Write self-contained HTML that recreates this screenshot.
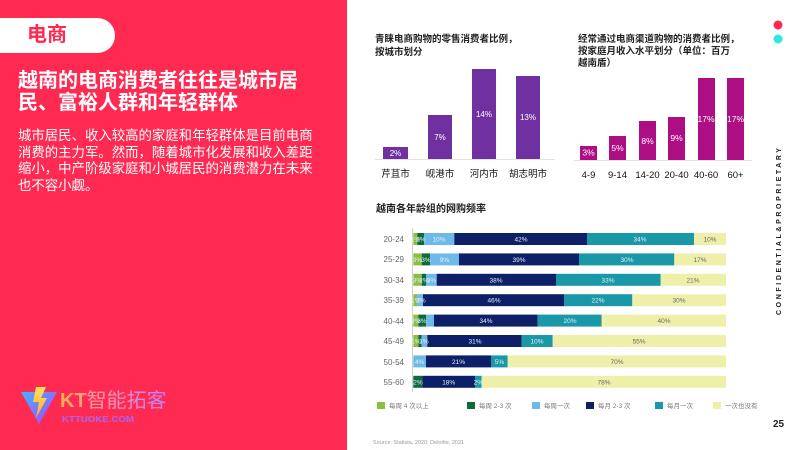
<!DOCTYPE html>
<html><head><meta charset="utf-8">
<style>
html,body{margin:0;padding:0;}
body{width:800px;height:450px;position:relative;overflow:hidden;background:#fff;font-family:"Liberation Sans","Noto Sans CJK SC",sans-serif;}
.left{position:absolute;left:0;top:0;width:347px;height:450px;background:#ff2a52;}
.tab{position:absolute;left:0;top:18px;width:115px;height:35px;background:#fff;border-radius:0 18px 18px 0;}
.tab span{position:absolute;left:27px;top:5px;font-size:20px;line-height:24px;font-weight:700;color:#ff2a52;font-family:"Liberation Sans","Noto Sans CJK SC",sans-serif;}
.title{position:absolute;left:18px;top:70px;font-size:20px;line-height:22px;font-weight:700;color:#fff;white-space:nowrap;}
.body{position:absolute;left:18px;top:128px;font-size:13.4px;line-height:16.5px;color:#fff;white-space:nowrap;}
svg{position:absolute;left:0;top:0;}
</style></head>
<body>
<div class="left">
  <div class="tab"><span>电商</span></div>
  <div class="title">越南的电商消费者往往是城市居<br>民、富裕人群和年轻群体</div>
  <div class="body">城市居民、收入较高的家庭和年轻群体是目前电商<br>消费的主力军。然而，随着城市化发展和收入差距<br>缩小，中产阶级家庭和小城居民的消费潜力在未来<br>也不容小觑。</div>
</div>
<svg width="800" height="450" viewBox="0 0 800 450" xmlns="http://www.w3.org/2000/svg" font-family="Liberation Sans, Noto Sans CJK SC, sans-serif">
<defs>
  <linearGradient id="tri" x1="0" y1="0" x2="1" y2="1">
    <stop offset="0" stop-color="#41b6ff"/><stop offset="1" stop-color="#b23cff"/>
  </linearGradient>
  <linearGradient id="bolt" x1="0" y1="0" x2="0" y2="1">
    <stop offset="0" stop-color="#ffe45c"/><stop offset="1" stop-color="#ffa726"/>
  </linearGradient>
  <linearGradient id="txt" x1="0" y1="0" x2="1" y2="0">
    <stop offset="0" stop-color="#ffb04a"/><stop offset="0.3" stop-color="#ff9a9a"/><stop offset="1" stop-color="#c47cff"/>
  </linearGradient>
</defs>
<!-- logo -->
<polygon points="21,392 57,392 39,424" fill="url(#tri)"/>
<polygon points="36,387 46,387 41,398 47,398 36,418 39,402 33,402" fill="url(#bolt)"/>
<text x="60" y="407" font-size="20" fill="url(#txt)" font-weight="700">KT<tspan font-weight="400">智能拓客</tspan></text>
<text x="62" y="422" font-size="8.5" font-weight="700" fill="#a666f0" textLength="72" lengthAdjust="spacingAndGlyphs">KTTUOKE.COM</text>

<!-- dots -->
<circle cx="778" cy="25" r="4.5" fill="#ff2a52"/>
<circle cx="778" cy="39" r="4.5" fill="#2ee6e4"/>
<text transform="translate(781,315) rotate(-90)" font-size="7" font-weight="700" fill="#222" textLength="167" lengthAdjust="spacing">CONFIDENTIAL&amp;PROPRIETARY</text>

<!-- chart 1 -->
<text x="375" y="42" font-size="9.5" font-weight="700" fill="#222">青睐电商购物的零售消费者比例，</text>
<text x="375" y="55" font-size="9.5" font-weight="700" fill="#222">按城市划分</text>
<line x1="375" y1="159.5" x2="555" y2="159.5" stroke="#e2e2e2" stroke-width="1"/>
<g fill="#7030a0">
<rect x="383" y="147" width="25" height="12"/>
<rect x="428" y="115" width="24" height="44"/>
<rect x="472" y="69" width="24" height="90"/>
<rect x="516" y="76" width="24" height="83"/>
</g>
<g font-size="8" fill="#fff" text-anchor="middle">
<text x="395.5" y="156">2%</text>
<text x="440" y="140">7%</text>
<text x="484" y="117">14%</text>
<text x="528" y="120">13%</text>
</g>
<g font-size="9.5" fill="#111" text-anchor="middle">
<text x="395.5" y="177">芹苴市</text>
<text x="440" y="177">岘港市</text>
<text x="484" y="177">河内市</text>
<text x="528" y="177">胡志明市</text>
</g>

<!-- chart 2 -->
<text x="578" y="42" font-size="9.5" font-weight="700" fill="#222">经常通过电商渠道购物的消费者比例，</text>
<text x="578" y="54" font-size="9.5" font-weight="700" fill="#222">按家庭月收入水平划分（单位：百万</text>
<text x="578" y="66" font-size="9.5" font-weight="700" fill="#222">越南盾）</text>
<line x1="574" y1="160.5" x2="752" y2="160.5" stroke="#e2e2e2" stroke-width="1"/>
<g fill="#ad0e84">
<rect x="580" y="146" width="17" height="14"/>
<rect x="609" y="136" width="17" height="24"/>
<rect x="639" y="121" width="17" height="39"/>
<rect x="668" y="117" width="17" height="43"/>
<rect x="698" y="78" width="17" height="82"/>
<rect x="727" y="78" width="17" height="82"/>
</g>
<g font-size="8.5" fill="#fff" text-anchor="middle">
<text x="588.5" y="155.5">3%</text>
<text x="617.5" y="151">5%</text>
<text x="647.5" y="144">8%</text>
<text x="676.5" y="141">9%</text>
<text x="706" y="122">17%</text>
<text x="735.5" y="122">17%</text>
</g>
<g font-size="9.5" fill="#111" text-anchor="middle">
<text x="588.5" y="178">4-9</text>
<text x="617.5" y="178">9-14</text>
<text x="647.5" y="178">14-20</text>
<text x="676.5" y="178">20-40</text>
<text x="706" y="178">40-60</text>
<text x="735.5" y="178">60+</text>
</g>

<!-- stacked chart -->
<text x="376" y="212" font-size="10" font-weight="700" fill="#222">越南各年龄组的网购频率</text>
<line x1="412.5" y1="228" x2="412.5" y2="392" stroke="#d0d0d0" stroke-width="1"/>
<g font-size="8" fill="#666" text-anchor="end">
<text x="404" y="242">20-24</text>
<text x="404" y="262">25-29</text>
<text x="404" y="283">30-34</text>
<text x="404" y="303">35-39</text>
<text x="404" y="324">40-44</text>
<text x="404" y="344">45-49</text>
<text x="404" y="365">50-54</text>
<text x="404" y="385">55-60</text>
</g>
<!-- row 1 -->
<g>
<rect x="413.3" y="233" width="4" height="12" fill="#8cbf3f"/>
<rect x="417.3" y="233" width="6.7" height="12" fill="#0c6b3a"/>
<rect x="424" y="233" width="30.3" height="12" fill="#6db9e8"/>
<rect x="454.3" y="233" width="132.7" height="12" fill="#0d1f66"/>
<rect x="587" y="233" width="107" height="12" fill="#1a98a8"/>
<rect x="694" y="233" width="32" height="12" fill="#eef0aa"/>
</g>
<!-- row 2 -->
<g>
<rect x="413.3" y="253.4" width="8.4" height="12" fill="#8cbf3f"/>
<rect x="421.7" y="253.4" width="8.3" height="12" fill="#0c6b3a"/>
<rect x="430" y="253.4" width="29" height="12" fill="#6db9e8"/>
<rect x="459" y="253.4" width="120" height="12" fill="#0d1f66"/>
<rect x="579" y="253.4" width="95.3" height="12" fill="#1a98a8"/>
<rect x="674.3" y="253.4" width="51.7" height="12" fill="#eef0aa"/>
</g>
<!-- row 3 -->
<g>
<rect x="413.3" y="273.8" width="8.4" height="12" fill="#8cbf3f"/>
<rect x="421.7" y="273.8" width="4.3" height="12" fill="#0c6b3a"/>
<rect x="426" y="273.8" width="10.7" height="12" fill="#6db9e8"/>
<rect x="436.7" y="273.8" width="119.3" height="12" fill="#0d1f66"/>
<rect x="556" y="273.8" width="104.7" height="12" fill="#1a98a8"/>
<rect x="660.7" y="273.8" width="65.3" height="12" fill="#eef0aa"/>
</g>
<!-- row 4 -->
<g>
<rect x="413.3" y="294.2" width="3.7" height="12" fill="#8cbf3f"/>
<rect x="417" y="294.2" width="6" height="12" fill="#6db9e8"/>
<rect x="423" y="294.2" width="141.3" height="12" fill="#0d1f66"/>
<rect x="564.3" y="294.2" width="68" height="12" fill="#1a98a8"/>
<rect x="632.3" y="294.2" width="93.7" height="12" fill="#eef0aa"/>
</g>
<!-- row 5 -->
<g>
<rect x="413.3" y="314.6" width="5" height="12" fill="#8cbf3f"/>
<rect x="418.3" y="314.6" width="7.7" height="12" fill="#0c6b3a"/>
<rect x="426" y="314.6" width="8" height="12" fill="#6db9e8"/>
<rect x="434" y="314.6" width="103.7" height="12" fill="#0d1f66"/>
<rect x="537.7" y="314.6" width="64" height="12" fill="#1a98a8"/>
<rect x="601.7" y="314.6" width="124.3" height="12" fill="#eef0aa"/>
</g>
<!-- row 6 -->
<g>
<rect x="413.3" y="335" width="5" height="12" fill="#8cbf3f"/>
<rect x="418.3" y="335" width="3.4" height="12" fill="#0c6b3a"/>
<rect x="421.7" y="335" width="5.6" height="12" fill="#6db9e8"/>
<rect x="427.3" y="335" width="94.4" height="12" fill="#0d1f66"/>
<rect x="521.7" y="335" width="31" height="12" fill="#1a98a8"/>
<rect x="552.7" y="335" width="173.3" height="12" fill="#eef0aa"/>
</g>
<!-- row 7 -->
<g>
<rect x="413.3" y="355.4" width="12.7" height="12" fill="#6db9e8"/>
<rect x="426" y="355.4" width="65" height="12" fill="#0d1f66"/>
<rect x="491" y="355.4" width="16.7" height="12" fill="#1a98a8"/>
<rect x="507.7" y="355.4" width="218.3" height="12" fill="#eef0aa"/>
</g>
<!-- row 8 -->
<g>
<rect x="413.3" y="375.8" width="9" height="12" fill="#0c6b3a"/>
<rect x="422.3" y="375.8" width="52.7" height="12" fill="#0d1f66"/>
<rect x="475" y="375.8" width="6.7" height="12" fill="#1a98a8"/>
<rect x="481.7" y="375.8" width="244.3" height="12" fill="#eef0aa"/>
</g>
<!-- segment labels -->
<g font-size="6.5" fill="#e8f0ff" text-anchor="middle">
<text x="415.5" y="241.5">1%</text><text x="421" y="241.5">2%</text><text x="439" y="241.5">10%</text><text x="521" y="241.5">42%</text><text x="640" y="241.5">34%</text>
<text x="417.5" y="262">3%</text><text x="426" y="262">3%</text><text x="444.5" y="262">9%</text><text x="519" y="262">39%</text><text x="627" y="262">30%</text>
<text x="417.5" y="282.3">3%</text><text x="424" y="282.3">2%</text><text x="431.5" y="282.3">3%</text><text x="496" y="282.3">38%</text><text x="608" y="282.3">33%</text>
<text x="416" y="302.7">1%</text><text x="421" y="302.7">2%</text><text x="494" y="302.7">46%</text><text x="598" y="302.7">22%</text>
<text x="416" y="323">2%</text><text x="422" y="323">3%</text><text x="486" y="323">34%</text><text x="570" y="323">20%</text>
<text x="416" y="343.5">1%</text><text x="424" y="343.5">1%</text><text x="475" y="343.5">31%</text><text x="537" y="343.5">10%</text>
<text x="419.7" y="364">4%</text><text x="458.5" y="364">21%</text><text x="499.5" y="364">5%</text>
<text x="418" y="384.3">2%</text><text x="448.7" y="384.3">18%</text><text x="478.3" y="384.3">2%</text>
</g>
<g font-size="6.5" fill="#666" text-anchor="middle">
<text x="710" y="241.5">10%</text>
<text x="700" y="262">17%</text>
<text x="693" y="282.3">21%</text>
<text x="679" y="302.7">30%</text>
<text x="664" y="323">40%</text>
<text x="639" y="343.5">55%</text>
<text x="617" y="364">70%</text>
<text x="604" y="384.3">78%</text>
</g>

<!-- legend -->
<rect x="377" y="402" width="8" height="7" fill="#8cbf3f"/>
<rect x="467" y="402" width="8" height="7" fill="#0c6b3a"/>
<rect x="532" y="402" width="8" height="7" fill="#6db9e8"/>
<rect x="586" y="402" width="8" height="7" fill="#0d1f66"/>
<rect x="655" y="402" width="8" height="7" fill="#1a98a8"/>
<rect x="713" y="402" width="8" height="7" fill="#eef0aa"/>
<g font-size="6.5" fill="#777">
<text x="389" y="408">每周 4 次以上</text>
<text x="479" y="408">每周 2-3 次</text>
<text x="544" y="408">每周一次</text>
<text x="598" y="408">每月 2-3 次</text>
<text x="667" y="408">每月一次</text>
<text x="725" y="408">一次也没有</text>
</g>

<text x="373" y="444" font-size="5.5" fill="#9a9a9a">Source: Statista, 2020; Deloitte, 2021</text>
<text x="773" y="427" font-size="10" font-weight="700" fill="#222">25</text>
</svg>
</body></html>
